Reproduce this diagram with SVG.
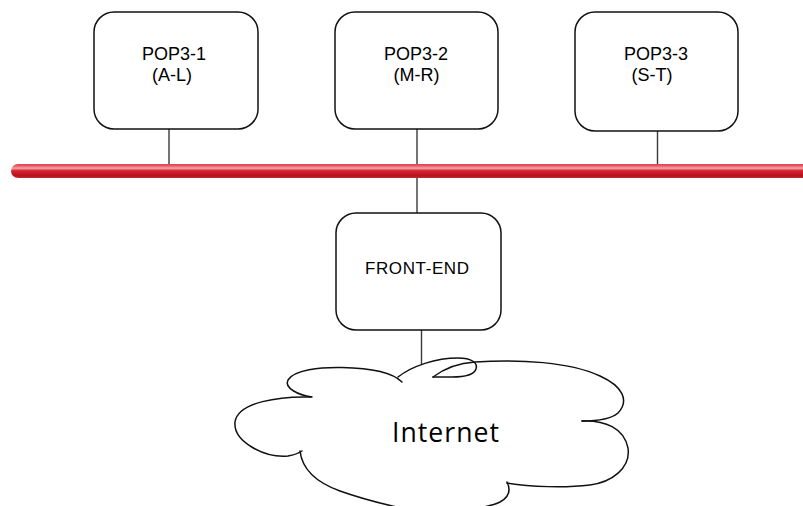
<svg xmlns="http://www.w3.org/2000/svg" width="803" height="506" viewBox="0 0 803 506">
  <defs>
    <linearGradient id="busGrad" x1="0" y1="0" x2="0" y2="1">
      <stop offset="0" stop-color="#e0404a"/>
      <stop offset="0.12" stop-color="#e85560"/>
      <stop offset="0.3" stop-color="#f2a6aa"/>
      <stop offset="0.48" stop-color="#d4252f"/>
      <stop offset="0.85" stop-color="#b5111d"/>
      <stop offset="1" stop-color="#c43038"/>
    </linearGradient>
    <style>
      .box { fill: #ffffff; stroke: #111111; stroke-width: 1.5; }
      .link { stroke: #3a3a3a; stroke-width: 1.4; fill: none; }
      .cloud { fill: none; stroke: #111111; stroke-width: 1.5; stroke-linecap: round; }
      .lbl { font-family: "Liberation Sans", Arial, sans-serif; fill: #000000; text-anchor: middle; }
      .big { font-family: "Open Sans", "Noto Sans", "Liberation Sans", sans-serif; fill: #000000; }
    </style>
  </defs>
  <rect width="803" height="506" fill="#ffffff"/>

  <!-- network bus -->
  <g id="bus">
    <rect x="11" y="164" width="800" height="14" rx="7" ry="7" fill="url(#busGrad)"/>
  </g>

  <!-- connectors -->
  <g id="connectors" class="link">
    <line x1="169" y1="129" x2="169" y2="164"/>
    <line x1="417" y1="129" x2="417" y2="164"/>
    <line x1="657.5" y1="131" x2="657.5" y2="164"/>
    <line x1="417" y1="178" x2="417" y2="213"/>
    <line x1="421.5" y1="330" x2="421.5" y2="364"/>
  </g>

  <g id="pop3-1">
    <rect class="box" x="94" y="12" width="164" height="117" rx="20" ry="20"/>
    <text class="lbl" x="174" y="60" font-size="18">POP3-1</text>
    <text class="lbl" x="172" y="81" font-size="18">(A-L)</text>
  </g>

  <g id="pop3-2">
    <rect class="box" x="335" y="12" width="163" height="117" rx="20" ry="20"/>
    <text class="lbl" x="416" y="60" font-size="18">POP3-2</text>
    <text class="lbl" x="416.5" y="81" font-size="18">(M-R)</text>
  </g>

  <g id="pop3-3">
    <rect class="box" x="575" y="12" width="163" height="119" rx="20" ry="20"/>
    <text class="lbl" x="656" y="60" font-size="18">POP3-3</text>
    <text class="lbl" x="652" y="81" font-size="18">(S-T)</text>
  </g>

  <g id="front-end">
    <rect class="box" x="336" y="213" width="165" height="117" rx="20" ry="20"/>
    <text class="lbl" x="417" y="274" font-size="17" textLength="104" lengthAdjust="spacing">FRONT-END</text>
  </g>

  <!-- cloud outline built from separate bumps -->
  <g id="internet">
    <path class="cloud" d="M312,397 C298,395 284,388 288,380 C294,370 320,367 342,367.5 C370,368 392,372 402,382"/>
    <path class="cloud" d="M311,397 C280,396 238,402 235,422 C233,442 265,458 288,456 C294,455 299,453 302,451"/>
    <path class="cloud" d="M300,451 C302,468 315,482 340,491 C365,500 390,506 420,512"/>
    <path class="cloud" d="M398,377 C412,366 436,358 458,358 C472,358 478,363 476,369 C474,375 463,377 452,377 L433,377"/>
    <path class="cloud" d="M433,377 C445,368 458,363 475,362 C520,359 570,362 600,376 C622,386 630,400 618,413 C610,420 596,421 582,421"/>
    <path class="cloud" d="M582,421 C605,420 624,428 628,448 C631,468 612,482 590,485 C565,488 530,487 507,483"/>
    <path class="cloud" d="M507,482 C511,490 509,497 500,502 C490,507 475,509 460,511"/>
    <text class="big" x="392" y="442" font-size="26.6" textLength="107" lengthAdjust="spacing">Internet</text>
  </g>
</svg>
